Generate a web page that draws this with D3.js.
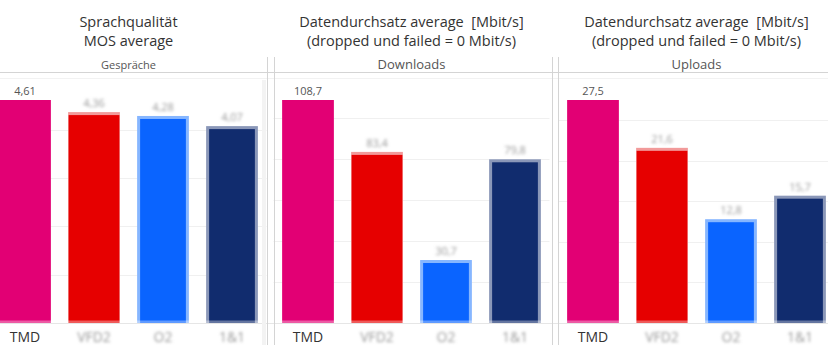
<!DOCTYPE html>
<html><head><meta charset="utf-8">
<script src="https://cdn.jsdelivr.net/npm/d3@7"></script>
<style>
html,body{margin:0;padding:0;background:#fff;}
svg{display:block;font-family:"Open Sans","Noto Sans",sans-serif;}
text{white-space:pre;}
</style></head>
<body>
<svg id="c" width="828" height="356"></svg>
<script>
// ---- data ----
const categories = ["TMD", "VFD2", "O2", "1&1"];
const panelTitles1 = ["Sprachqualität", "Datendurchsatz average  [Mbit/s]", "Datendurchsatz average  [Mbit/s]"];
const panelTitles2 = ["MOS average", "(dropped und failed = 0 Mbit/s)", "(dropped und failed = 0 Mbit/s)"];
const panelSubtitles = ["Gespräche", "Downloads", "Uploads"];
const mosValues = [4.61, 4.36, 4.28, 4.07];
const downloadValues = [108.7, 83.4, 30.7, 79.8];
const uploadValues = [27.5, 21.6, 12.8, 15.7];
const gridTickCounts = [5, 5, 5];

// ---- style ----
const colors = ["#e20074", "#e60000", "#0a64ff", "#112c6e"];
const haloColors = [null, "#f29a9a", "#86b6ff", "#8a97b8"];
const panelX = [-9.5, 273.5, 558.5];
const panelW = 276;
const yBottom = 323, yTop = 100;
const series = [mosValues, downloadValues, uploadValues];

const svg = d3.select("#c");
const defs = svg.append("defs");
defs.append("filter").attr("id","blur").attr("x","-20%").attr("y","-40%").attr("width","140%").attr("height","180%")
  .append("feGaussianBlur").attr("stdDeviation",1.6);

const fmt = v => d3.format(".1f")(v).replace(".", ",");
const fmt2 = v => d3.format(".2f")(v).replace(".", ",");

series.forEach((vals, p) => {
  const x0 = panelX[p];
  const x = d3.scaleBand().domain(categories).range([x0, x0 + panelW]).paddingInner(0.25).paddingOuter(0.125);
  const y = d3.scaleLinear().domain([0, d3.max(vals)]).range([yBottom, yTop]);
  const g = svg.append("g");
  const cx = x0 + panelW / 2;

  // titles
  g.append("text").attr("x", cx).attr("y", 27).attr("text-anchor", "middle")
    .attr("font-size", 14.5).attr("fill", "#333").text(panelTitles1[p]);
  g.append("text").attr("x", cx).attr("y", 46).attr("text-anchor", "middle")
    .attr("font-size", 14.5).attr("fill", "#333").text(panelTitles2[p]);
  g.append("text").attr("x", cx).attr("y", 69).attr("text-anchor", "middle")
    .attr("font-size", p === 0 ? 11 : 13).attr("fill", "#555").text(panelSubtitles[p]);

  // gridlines
  g.selectAll(".grid").data(y.ticks(gridTickCounts[p]).filter(t => t > 0)).join("line")
    .attr("x1", x0).attr("x2", x0 + panelW)
    .attr("y1", d => Math.round(y(d)) + 0.5).attr("y2", d => Math.round(y(d)) + 0.5)
    .attr("stroke", "#f0f0f0").attr("stroke-width", 1);

  // bars
  const bw = x.bandwidth();
  vals.forEach((v, i) => {
    const bx = x(categories[i]);
    const by = y(v);
    if (haloColors[i]) {
      g.append("rect").attr("x", bx).attr("y", by).attr("width", bw).attr("height", yBottom - by)
        .attr("fill", haloColors[i]);
      const side = i === 1 ? 0.5 : 3;
      g.append("rect").attr("x", bx + side).attr("y", by + 3).attr("width", bw - 2 * side).attr("height", yBottom - by - 3)
        .attr("fill", colors[i]);
    } else {
      g.append("rect").attr("x", bx).attr("y", by).attr("width", bw).attr("height", yBottom - by)
        .attr("fill", colors[i]);
    }
    // value labels
    const lbl = p === 0 ? fmt2(v) : fmt(v);
    const t = g.append("text").attr("x", bx + bw / 2).attr("y", by - 5).attr("text-anchor", "middle")
      .attr("font-size", 11).text(lbl);
    if (i === 0) t.attr("fill", "#555");
    else t.attr("fill", "#999").attr("filter", "url(#blur)");
    // category labels
    const c = g.append("text").attr("x", bx + bw / 2).attr("y", 342).attr("text-anchor", "middle")
      .attr("font-size", 14).text(categories[i]);
    if (i === 0) c.attr("fill", "#333");
    else c.attr("fill", "#999").attr("filter", "url(#blur)");
  });
});

// zero line overlay
svg.append("line").attr("x1", 0).attr("x2", 828).attr("y1", 322).attr("y2", 322)
  .attr("stroke", "#fff").attr("stroke-opacity", 0.35).attr("stroke-width", 3);
svg.append("line").attr("x1", 0).attr("x2", 828).attr("y1", 323.5).attr("y2", 323.5)
  .attr("stroke", "#e6e6e6").attr("stroke-width", 1);

// header lines
svg.append("line").attr("x1", 0).attr("x2", 828).attr("y1", 72.5).attr("y2", 72.5)
  .attr("stroke", "#d4d4d4");
svg.append("line").attr("x1", 0).attr("x2", 828).attr("y1", 78.5).attr("y2", 78.5)
  .attr("stroke", "#f2f2f2");

// light band at panel 1 edge
svg.append("rect").attr("x", 262).attr("y", 80).attr("width", 4).attr("height", 265).attr("fill", "#f3f3f3");

// separators
[267.5, 274.5, 552.5, 558.5].forEach(xx => {
  svg.append("line").attr("x1", xx).attr("x2", xx).attr("y1", 57).attr("y2", 345)
    .attr("stroke", "#d4d4d4");
});
</script>
</body></html>
